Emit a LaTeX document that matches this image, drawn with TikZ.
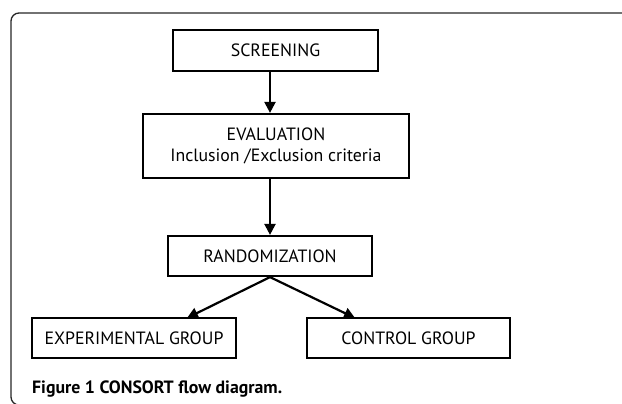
\documentclass[tikz,border=0pt]{standalone}
\usepackage{fontspec}
\setmainfont{PT Sans}
\usepackage{xcolor}
\usepackage{tikz}
\usetikzlibrary{arrows.meta}
\tikzstyle{box}=[draw=black,line width=2.2pt,fill=white,inner sep=0pt,font=\fontsize{17.8}{21}\selectfont,align=center]
\tikzstyle{link}=[line width=2.2pt,->,>={Triangle[length=11pt,width=11pt]}]

\begin{document}
\begin{tikzpicture}[x=1pt,y=-1pt]
        \useasboundingbox (0,0) rectangle (622,404);
        \draw[gray!30!black,line width=1.3pt,rounded corners=8pt] (630,13) -- (11,13) -- (11,405) -- (40,405);
        \node at (275.5, 50.5) [box,minimum width=205pt,minimum height=41pt] (screening) {SCREENING};
        \node at (276, 146) [box,minimum width=266pt,minimum height=64pt] (evaluation) {EVALUATION\\Inclusion /Exclusion criteria};
        \node at (270, 256) [box,minimum width=204pt,minimum height=40pt] (randomization) {RANDOMIZATION};
        \node at (134, 338) [box,minimum width=204pt,minimum height=40pt] (experimental) {EXPERIMENTAL GROUP};
        \node at (408.5, 338) [box,minimum width=203pt,minimum height=40pt] (control) {CONTROL GROUP};
        \coordinate (expin) at (187, 318);
        \coordinate (ctrlin) at (355, 318);
        \draw [link] (screening.south -| randomization.north) to (evaluation.north -| randomization.north);
        \draw [link] (evaluation.south -| randomization.north) to (randomization.north);
        \draw [link] (randomization.south) to (expin);
        \draw [link] (randomization.south) to (ctrlin);
        \node at (32, 393) [anchor=base west,inner sep=0pt,font=\fontsize{17.8}{21}\selectfont\bfseries] (caption) {Figure 1 CONSORT flow diagram.};
      \end{tikzpicture}
\end{document}
